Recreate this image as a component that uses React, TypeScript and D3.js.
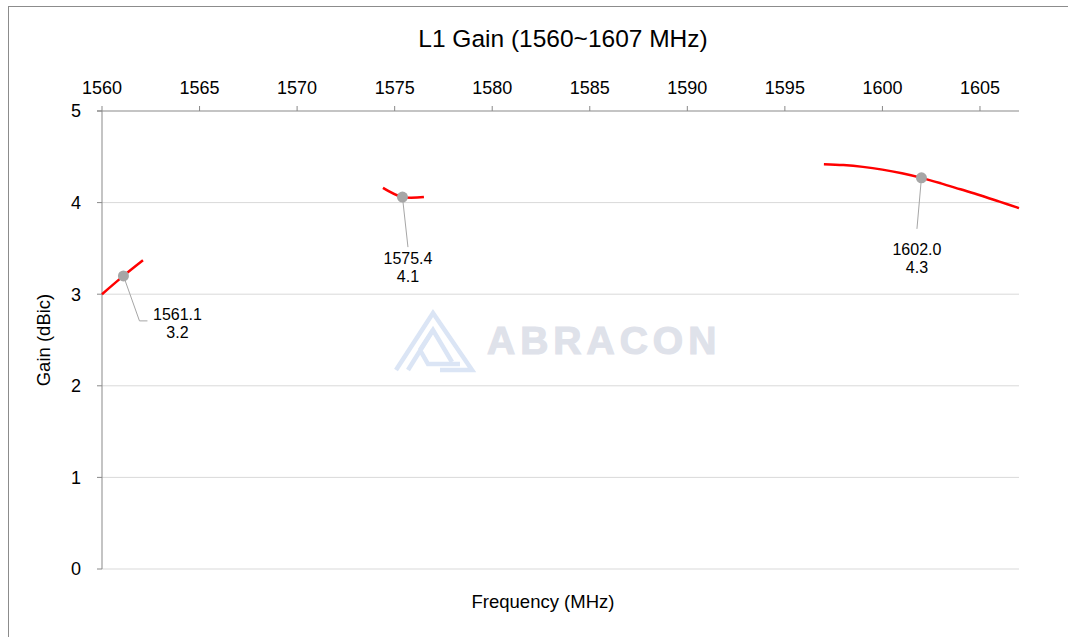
import * as d3 from 'd3'

const W = 1068
const H = 637
const MARGIN = { top: 111, right: 49, bottom: 68, left: 102 }

// frequency ticks along the top axis
const X_TICKS = [1560, 1565, 1570, 1575, 1580, 1585, 1590, 1595, 1600, 1605]
const Y_TICKS = [0, 1, 2, 3, 4, 5]

// three measured bands (MHz, dBic)
const BAND_L1_LOW = [
  { f: 1560.0, g: 3.0 },
  { f: 1561.1, g: 3.2 },
  { f: 1562.1, g: 3.37 }
]
const BAND_L1_MID = [
  { f: 1574.4, g: 4.16 },
  { f: 1575.4, g: 4.06 },
  { f: 1576.5, g: 4.06 }
]
const BAND_L1_HIGH = [
  { f: 1597, g: 4.42 },
  { f: 1598, g: 4.41 },
  { f: 1599, g: 4.39 },
  { f: 1600, g: 4.36 },
  { f: 1601, g: 4.32 },
  { f: 1602, g: 4.27 },
  { f: 1603, g: 4.21 },
  { f: 1604, g: 4.145 },
  { f: 1605, g: 4.08 },
  { f: 1606, g: 4.01 },
  { f: 1607, g: 3.94 }
]

// highlighted points with callouts (offsets are in px from the point)
const MARKERS = [
  { f: 1561.1, g: 3.2, label: '1561.1', value: '3.2', dx: 54, dy: 39, side: true, lead: 6 },
  { f: 1575.4, g: 4.06, label: '1575.4', value: '4.1', dx: 5.5, dy: 61.5, side: false, lead: -11.5 },
  { f: 1602.0, g: 4.27, label: '1602.0', value: '4.3', dx: -4.5, dy: 72, side: false, lead: -21 }
]

const FONT = 'Arial, "Liberation Sans", sans-serif'

export default function App() {
  const innerWidth = W - MARGIN.left - MARGIN.right
  const innerHeight = H - MARGIN.top - MARGIN.bottom

  const x = d3.scaleLinear().domain([1560, 1607]).range([MARGIN.left, MARGIN.left + innerWidth])
  const y = d3.scaleLinear().domain([0, 5]).range([MARGIN.top + innerHeight, MARGIN.top])

  const line = d3.line<{ f: number; g: number }>()
    .x(d => x(d.f))
    .y(d => y(d.g))
    .curve(d3.curveCatmullRom.alpha(0.5))

  const axisColor = '#898989'
  const gridColor = '#d9d9d9'

  return (
    <svg width={W} height={H} style={{ position: 'absolute', left: 0, top: 0, background: '#fff' }} fontFamily={FONT}>
      {/* chart frame */}
      <rect x={8.5} y={6.5} width={W + 20} height={H + 20} fill="#fff" stroke="#8c8c8c" strokeWidth={1} />

      {/* watermark */}
      <g>
        <g fill="none" stroke="#dbe5f5" strokeWidth={4.5} strokeLinejoin="miter">
          <path d="M396,370 L433,313 L472,370 L440,370" />
          <path d="M408,370 L433,330 L452,362" />
          <path d="M420,350 L433,330 M420,350 L428,364 L460,364" />
        </g>
        <text x={487} y={354} fontSize={39} fontWeight="bold" fill="#dfe2ea" stroke="#dfe2ea" strokeWidth={1.2} letterSpacing={5}>ABRACON</text>
      </g>

      {/* title */}
      <text x={563} y={47} textAnchor="middle" fontSize={24.5} fill="#000">L1 Gain (1560~1607 MHz)</text>

      {/* gridlines */}
      {Y_TICKS.filter(t => t !== 5).map(t => (
        <line key={`g-${t}`} x1={x(1560)} x2={x(1607)} y1={y(t)} y2={y(t)} stroke={gridColor} strokeWidth={1} />
      ))}

      {/* top x axis */}
      <line x1={x(1560) - 5} x2={x(1607)} y1={y(5)} y2={y(5)} stroke={axisColor} />
      {X_TICKS.map(t => (
        <g key={`xt-${t}`}>
          <line x1={x(t)} x2={x(t)} y1={y(5) - 5} y2={y(5)} stroke={axisColor} />
          <text x={x(t)} y={y(5) - 17} textAnchor="middle" fontSize={18} fill="#000">{t}</text>
        </g>
      ))}

      {/* y axis */}
      <line x1={x(1560)} x2={x(1560)} y1={y(5)} y2={y(0)} stroke={axisColor} />
      {Y_TICKS.map(t => (
        <g key={`yt-${t}`}>
          <line x1={x(1560) - 5} x2={x(1560)} y1={y(t)} y2={y(t)} stroke={axisColor} />
          <text x={x(1560) - 21} y={y(t)} dy="0.35em" textAnchor="end" fontSize={18} fill="#000">{t}</text>
        </g>
      ))}

      {/* axis titles */}
      <text x={543} y={608} textAnchor="middle" fontSize={18.5} fill="#000">Frequency (MHz)</text>
      <text transform={`translate(50, ${(y(0) + y(5)) / 2}) rotate(-90)`} textAnchor="middle" fontSize={18.5} fill="#000">Gain (dBic)</text>

      {/* gain curves */}
      {[BAND_L1_LOW, BAND_L1_MID, BAND_L1_HIGH].map((band, i) => (
        <path key={`band-${i}`} d={line(band) || ''} fill="none" stroke="#ff0000" strokeWidth={2.5} />
      ))}

      {/* markers and callouts */}
      {MARKERS.map(m => {
        const cx = x(m.f)
        const cy = y(m.g)
        const lx = cx + m.dx
        const ly = cy + m.dy
        return (
          <g key={m.label}>
            {m.side ? (
              <polyline points={`${cx},${cy} ${cx + 16},${ly + m.lead} ${cx + 24},${ly + m.lead}`} fill="none" stroke="#a6a6a6" strokeWidth={1} />
            ) : (
              <line x1={cx} y1={cy} x2={cx + m.dx} y2={ly + m.lead} stroke="#a6a6a6" strokeWidth={1} />
            )}
            <circle cx={cx} cy={cy} r={5.5} fill="#a6a6a6" />
            <text x={lx} y={ly} textAnchor="middle" fontSize={16} fill="#000">
              <tspan x={lx} dy="0.35em">{m.label}</tspan>
              <tspan x={lx} dy="1.1em">{m.value}</tspan>
            </text>
          </g>
        )
      })}
    </svg>
  )
}
